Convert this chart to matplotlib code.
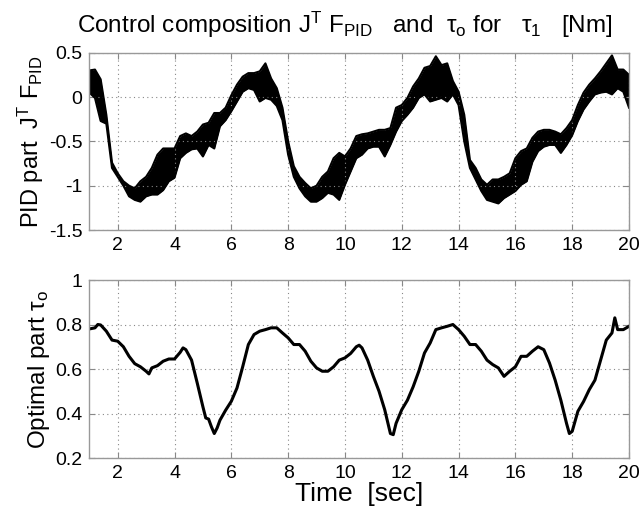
import numpy as np
import matplotlib
matplotlib.use('Agg')
import matplotlib.pyplot as plt

plt.rcParams['font.family'] = ['Liberation Sans', 'DejaVu Sans']
plt.rcParams['mathtext.fontset'] = 'custom'
plt.rcParams['mathtext.rm'] = 'Liberation Sans'
plt.rcParams['mathtext.it'] = 'Liberation Sans'

# PID part: noisy signal, read as upper/lower envelope every 0.2 s
pid_t = [1.0, 1.2, 1.4, 1.6, 1.8, 2.0, 2.2, 2.4, 2.6, 2.8,
         3.0, 3.2, 3.4, 3.6, 3.8, 4.0, 4.2, 4.4, 4.6, 4.8,
         5.0, 5.2, 5.4, 5.6, 5.8, 6.0, 6.2, 6.4, 6.6, 6.8,
         7.0, 7.2, 7.4, 7.6, 7.8, 8.0, 8.2, 8.4, 8.6, 8.8,
         9.0, 9.2, 9.4, 9.6, 9.8, 10.0, 10.2, 10.4, 10.6, 10.8,
         11.0, 11.2, 11.4, 11.6, 11.8, 12.0, 12.2, 12.4, 12.6, 12.8,
         13.0, 13.2, 13.4, 13.6, 13.8, 14.0, 14.2, 14.4, 14.6, 14.8,
         15.0, 15.2, 15.4, 15.6, 15.8, 16.0, 16.2, 16.4, 16.6, 16.8,
         17.0, 17.2, 17.4, 17.6, 17.8, 18.0, 18.2, 18.4, 18.6, 18.8,
         19.0, 19.2, 19.4, 19.6, 19.8, 20.0]
pid_hi = [0.30, 0.31, 0.20, -0.20, -0.74, -0.86, -0.95, -1.00, -1.03, -0.95,
          -0.90, -0.80, -0.65, -0.58, -0.58, -0.58, -0.44, -0.41, -0.44, -0.39,
          -0.31, -0.29, -0.18, -0.18, -0.12, 0.02, 0.14, 0.23, 0.27, 0.27,
          0.29, 0.38, 0.21, 0.10, -0.12, -0.50, -0.78, -0.90, -0.97, -1.03,
          -1.00, -0.90, -0.84, -0.69, -0.63, -0.67, -0.58, -0.44, -0.42, -0.41,
          -0.39, -0.37, -0.37, -0.35, -0.12, -0.09, -0.01, 0.12, 0.21, 0.33,
          0.35, 0.46, 0.36, 0.38, 0.18, 0.06, -0.20, -0.71, -0.80, -0.93,
          -0.99, -0.93, -0.93, -0.90, -0.86, -0.69, -0.61, -0.58, -0.46, -0.39,
          -0.37, -0.37, -0.39, -0.42, -0.35, -0.26, -0.09, 0.05, 0.14, 0.21,
          0.29, 0.38, 0.47, 0.31, 0.31, 0.25]
pid_lo = [0.05, -0.01, -0.27, -0.30, -0.80, -0.90, -1.00, -1.12, -1.16, -1.18,
          -1.12, -1.10, -1.10, -1.05, -0.95, -0.91, -0.69, -0.63, -0.59, -0.58,
          -0.67, -0.54, -0.58, -0.33, -0.26, -0.16, -0.05, 0.06, 0.10, 0.08,
          -0.05, -0.01, -0.03, -0.10, -0.26, -0.65, -0.90, -1.03, -1.12, -1.18,
          -1.18, -1.14, -1.08, -1.10, -1.16, -0.99, -0.84, -0.69, -0.65, -0.58,
          -0.56, -0.56, -0.67, -0.54, -0.39, -0.27, -0.20, -0.12, -0.01, 0.03,
          -0.05, -0.03, -0.01, -0.05, 0.03, -0.09, -0.50, -0.80, -0.93, -1.06,
          -1.16, -1.18, -1.20, -1.14, -1.10, -1.06, -0.99, -0.95, -0.73, -0.61,
          -0.56, -0.54, -0.54, -0.63, -0.54, -0.43, -0.27, -0.14, -0.05, 0.03,
          0.05, 0.06, 0.03, 0.10, 0.06, -0.12]

# optimal part tau_o
opt_t = [1.0, 1.2, 1.3, 1.4, 1.6, 1.8, 2.0, 2.2, 2.4, 2.6, 2.8, 3.0, 3.1, 3.2,
         3.4, 3.6, 3.8, 4.0, 4.2, 4.3, 4.4, 4.6, 4.8, 5.0, 5.1, 5.2, 5.3, 5.4,
         5.5, 5.6, 5.8, 6.0, 6.2, 6.4, 6.6, 6.8, 7.0, 7.2, 7.4, 7.6, 7.8, 8.0,
         8.2, 8.4, 8.6, 8.8, 9.0, 9.2, 9.4, 9.6, 9.8, 10.0, 10.2, 10.4, 10.5,
         10.6, 10.8, 11.0, 11.2, 11.4, 11.6, 11.7, 11.8, 12.0, 12.2, 12.4, 12.6,
         12.8, 13.0, 13.2, 13.4, 13.6, 13.8, 14.0, 14.2, 14.4, 14.6, 14.8, 15.0,
         15.2, 15.4, 15.6, 15.8, 16.0, 16.2, 16.4, 16.6, 16.8, 17.0, 17.2, 17.4,
         17.6, 17.8, 17.9, 18.0, 18.2, 18.4, 18.6, 18.8, 19.0, 19.2, 19.4, 19.5,
         19.6, 19.8, 20.0]
opt_v = [0.78, 0.785, 0.80, 0.798, 0.77, 0.73, 0.725, 0.70, 0.657, 0.624, 0.61,
         0.59, 0.578, 0.605, 0.615, 0.635, 0.645, 0.645, 0.675, 0.695, 0.687,
         0.64, 0.537, 0.43, 0.38, 0.375, 0.34, 0.31, 0.335, 0.37, 0.415, 0.455,
         0.515, 0.61, 0.71, 0.755, 0.77, 0.777, 0.785, 0.785, 0.762, 0.74, 0.71,
         0.71, 0.68, 0.635, 0.605, 0.59, 0.59, 0.61, 0.64, 0.65, 0.67, 0.70,
         0.707, 0.695, 0.64, 0.567, 0.50, 0.417, 0.31, 0.305, 0.356, 0.417,
         0.46, 0.52, 0.59, 0.672, 0.717, 0.777, 0.785, 0.792, 0.80, 0.777,
         0.747, 0.71, 0.71, 0.68, 0.64, 0.62, 0.605, 0.567, 0.59, 0.61, 0.657,
         0.657, 0.68, 0.70, 0.687, 0.627, 0.55, 0.46, 0.356, 0.31, 0.32, 0.41,
         0.454, 0.507, 0.55, 0.64, 0.73, 0.762, 0.83, 0.777, 0.777, 0.792]

xticks = [2, 4, 6, 8, 10, 12, 14, 16, 18, 20]
pid_yticks = [-1.5, -1, -0.5, 0, 0.5]
pid_ylabels = ['-1.5', '-1', '-0.5', '0', '0.5']
opt_yticks = [0.2, 0.4, 0.6, 0.8, 1]
opt_ylabels = ['0.2', '0.4', '0.6', '0.8', '1']


def style(ax):
    ax.set_xlim(1, 20)
    ax.set_xticks(xticks)
    ax.grid(True, linestyle=(0, (1, 3)), color='#888888', linewidth=0.8)
    ax.tick_params(direction='in', top=True, right=True, labelsize=14,
                   length=4, color='#888888', pad=5)
    for s in ax.spines.values():
        s.set_color('#999999')
        s.set_linewidth(1.0)


fig = plt.figure(figsize=(6.41, 5.19), dpi=100)
ax1 = fig.add_axes([0.1393, 0.5568, 0.842, 0.3416])
ax2 = fig.add_axes([0.1393, 0.1175, 0.842, 0.343])

t = np.array(pid_t)
ax1.fill_between(t, pid_lo, pid_hi, color='k', linewidth=0)
ax1.plot(t, pid_hi, color='k', lw=1.5)
ax1.plot(t, pid_lo, color='k', lw=1.5)
style(ax1)
ax1.set_ylim(-1.5, 0.5)
ax1.set_yticks(pid_yticks)
ax1.set_yticklabels(pid_ylabels)
ax1.set_ylabel(r'PID part  J$^{\mathrm{T}}$ F$_{\mathrm{PID}}$', fontsize=17,
               labelpad=2)
fig.text(0.12, 0.936,
         r'Control composition J$^{\mathrm{T}}$ F$_{\mathrm{PID}}$   and  $\tau_{\mathrm{o}}$ for   $\tau_{1}$   [Nm]',
         fontsize=17.5, ha='left', va='baseline')

ax2.plot(opt_t, opt_v, color='k', lw=2.2)
style(ax2)
ax2.set_ylim(0.2, 1)
ax2.set_yticks(opt_yticks)
ax2.set_yticklabels(opt_ylabels)
ax2.set_ylabel(r'Optimal part $\tau_{\mathrm{o}}$', fontsize=17.5, labelpad=2)
ax2.set_xlabel('Time  [sec]', fontsize=19, labelpad=0)

fig.savefig('out.png', dpi=100)
